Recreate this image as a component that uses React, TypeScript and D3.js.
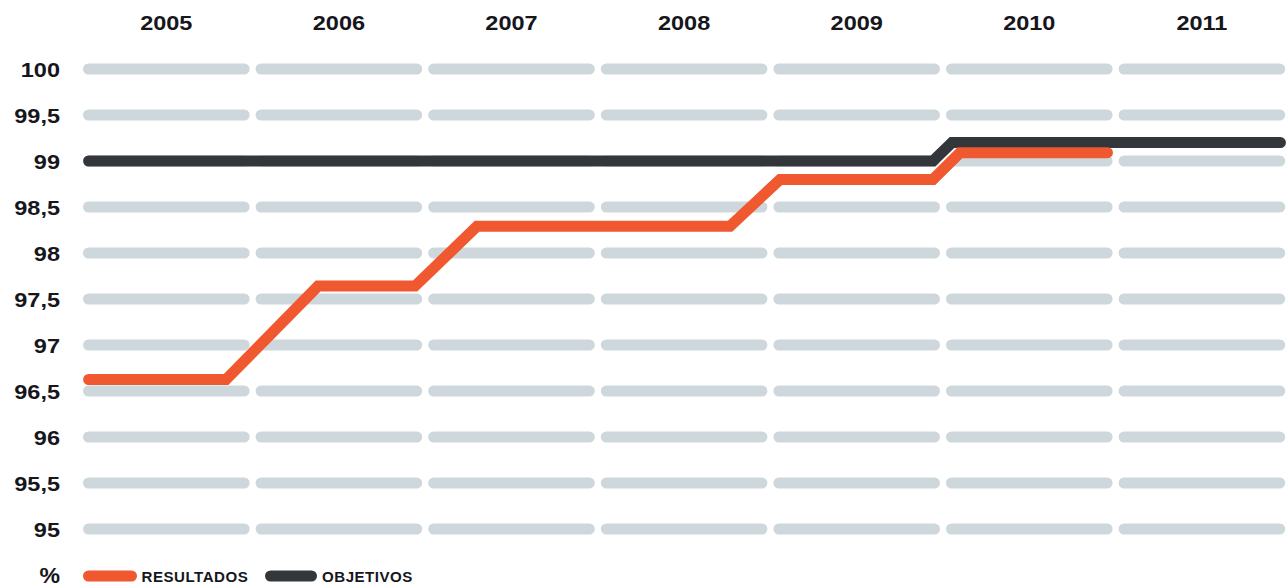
import React from "react";
import * as d3 from "d3";

const years = ["2005", "2006", "2007", "2008", "2009", "2010", "2011"];
const yTicks = [95, 95.5, 96, 96.5, 97, 97.5, 98, 98.5, 99, 99.5, 100];
const yTickLabels = ["95", "95,5", "96", "96,5", "97", "97,5", "98", "98,5", "99", "99,5", "100"];

// breakpoints in fractional year position (2005.0 = start of 2005 column)
const resultadosT = [2005.05, 2005.846, 2006.379, 2006.941, 2007.3, 2008.766, 2009.056, 2009.942, 2010.098, 2010.953];
const resultadosV = [96.625, 96.625, 97.64, 97.64, 98.29, 98.29, 98.8, 98.8, 99.09, 99.09];
const objetivosT = [2005.05, 2009.942, 2010.052, 2011.955];
const objetivosV = [99, 99, 99.2, 99.2];

const W = 1287;
const H = 587;
const ORANGE = "#F0582F";
const DARK = "#33373B";
const GRID = "#CDD7DC";
const TEXT = "#16161c";
const FONT = "'Liberation Sans', Arial, Helvetica, sans-serif";
const SX = 1.12;

function WideText(props: {
  x: number;
  y: number;
  anchor: "start" | "middle" | "end";
  size: number;
  sx: number;
  spacing?: number;
  children: React.ReactNode;
}) {
  return (
    <g transform={`translate(${props.x},${props.y}) scale(${props.sx},1)`}>
      <text
        x={0}
        y={0}
        textAnchor={props.anchor}
        fontSize={props.size}
        fontWeight="bold"
        letterSpacing={props.spacing ?? 0}
        fill={TEXT}
      >
        {props.children}
      </text>
    </g>
  );
}

export default function App() {
  const x = d3.scaleLinear().domain([2005, 2012]).range([80, 80 + 7 * 172.6]);
  const y = d3.scaleLinear().domain([95, 100]).range([529, 69]);

  const line = d3
    .line<[number, number]>()
    .x((d) => x(d[0]))
    .y((d) => y(d[1]));

  const resPts: [number, number][] = resultadosT.map((t, i) => [t, resultadosV[i]]);
  const objPts: [number, number][] = objetivosT.map((t, i) => [t, objetivosV[i]]);

  const sw = 11;
  const inset = 3 + sw / 2;

  return (
    <svg
      width={W}
      height={H}
      style={{ position: "absolute", left: 0, top: 0, display: "block", background: "#fff" }}
      fontFamily={FONT}
    >
      {/* year labels */}
      {years.map((yr, i) => (
        <WideText key={yr} x={x(2005 + i + 0.5)} y={29.5} anchor="middle" size={21} sx={SX}>
          {yr}
        </WideText>
      ))}
      {/* grid segments */}
      {yTicks.map((v) =>
        years.map((yr, i) => (
          <line
            key={`${v}-${yr}`}
            x1={x(2005 + i) + inset}
            x2={x(2005 + i + 1) - inset}
            y1={y(v)}
            y2={y(v)}
            stroke={GRID}
            strokeWidth={sw}
            strokeLinecap="round"
          />
        ))
      )}
      {/* y labels */}
      {yTicks.map((v, i) => (
        <WideText key={`yl-${v}`} x={60} y={y(v) + 7.6} anchor="end" size={21} sx={SX}>
          {yTickLabels[i]}
        </WideText>
      ))}
      {/* lines */}
      <path
        d={line(objPts) || ""}
        fill="none"
        stroke={DARK}
        strokeWidth={sw}
        strokeLinecap="round"
        strokeLinejoin="miter"
      />
      <path
        d={line(resPts) || ""}
        fill="none"
        stroke={ORANGE}
        strokeWidth={sw}
        strokeLinecap="round"
        strokeLinejoin="miter"
      />
      {/* legend */}
      <WideText x={60} y={583} anchor="end" size={22} sx={1.05}>
        %
      </WideText>
      <line x1={88.5} x2={131.5} y1={576} y2={576} stroke={ORANGE} strokeWidth={sw} strokeLinecap="round" />
      <WideText x={141.5} y={581.5} anchor="start" size={14.5} sx={1.04} spacing={0.5}>
        RESULTADOS
      </WideText>
      <line x1={270.5} x2={311.5} y1={576} y2={576} stroke={DARK} strokeWidth={sw} strokeLinecap="round" />
      <WideText x={322} y={581.5} anchor="start" size={14.5} sx={1.04} spacing={0.5}>
        OBJETIVOS
      </WideText>
    </svg>
  );
}
